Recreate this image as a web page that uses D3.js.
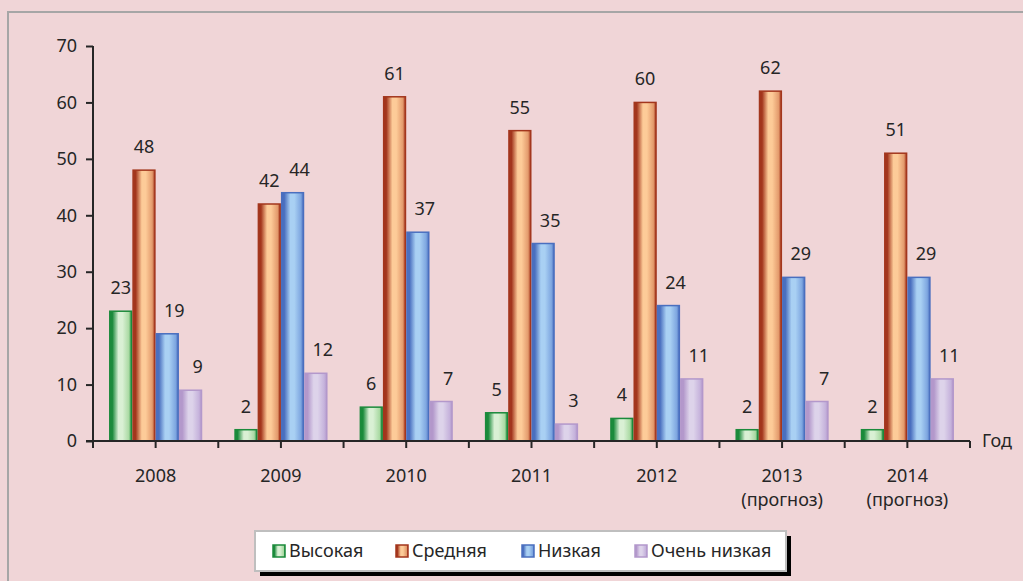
<!DOCTYPE html>
<html>
<head>
<meta charset="utf-8">
<script src="https://cdn.jsdelivr.net/npm/d3@7"></script>
<style>
  html, body { margin: 0; padding: 0; background: #f0d5d7; }
  svg { display: block; font-family: "Noto Sans", sans-serif; }
</style>
</head>
<body>
<svg id="chart" width="1023" height="581"></svg>
<script>
// data
const years = ['2008', '2009', '2010', '2011', '2012', '2013', '2014'];
const yearNotes = ['', '', '', '', '', '(прогноз)', '(прогноз)'];
const seriesNames = ['Высокая', 'Средняя', 'Низкая', 'Очень низкая'];
const high = [23, 2, 6, 5, 4, 2, 2];
const medium = [48, 42, 61, 55, 60, 62, 51];
const low = [19, 44, 37, 35, 24, 29, 29];
const veryLow = [9, 12, 7, 3, 11, 7, 11];
const yTicks = [0, 10, 20, 30, 40, 50, 60, 70];
const axisTitle = 'Год';

const seriesValues = [high, medium, low, veryLow];

// colours: edge, light centre, right side
const palette = [
  {edge: '#1b8a3b', light: '#d9f0d4', mid: '#a9d9a2'},
  {edge: '#a3361d', light: '#fdcb98', mid: '#e39a6c'},
  {edge: '#4a6fbf', light: '#a9d0f3', mid: '#7ea6e0'},
  {edge: '#b398cb', light: '#ddd3ea', mid: '#c6b3dc'}
];
const labelDx = [0, 0, 7, 7];
const fontSize = 18;

const svg = d3.select('#chart');
const textColor = '#262626';

// frame
svg.append('rect')
  .attr('x', 8).attr('y', 12)
  .attr('width', 1100).attr('height', 700)
  .attr('fill', 'none')
  .attr('stroke', '#a6a6a6')
  .attr('stroke-width', 2);

// gradients
const defs = svg.append('defs');
palette.forEach((p, i) => {
  const grad = defs.append('linearGradient')
    .attr('id', 'grad' + i)
    .attr('x1', '0%').attr('x2', '100%')
    .attr('y1', '0%').attr('y2', '0%');
  grad.append('stop').attr('offset', '0%').attr('stop-color', p.edge);
  grad.append('stop').attr('offset', '12%').attr('stop-color', p.edge);
  grad.append('stop').attr('offset', '40%').attr('stop-color', p.light);
  grad.append('stop').attr('offset', '58%').attr('stop-color', p.light);
  grad.append('stop').attr('offset', '88%').attr('stop-color', p.mid);
  grad.append('stop').attr('offset', '100%').attr('stop-color', p.edge);
});

const plotLeft = 93, plotRight = 970, plotTop = 46, plotBottom = 441;

const x = d3.scaleBand()
  .domain(years)
  .range([plotLeft, plotRight])
  .paddingInner(0.256)
  .paddingOuter(0.128);

const xs = d3.scaleBand()
  .domain(d3.range(seriesNames.length))
  .range([0, x.bandwidth()]);

const y = d3.scaleLinear()
  .domain([0, 70])
  .range([plotBottom, plotTop]);

// bars
const g = svg.append('g');
seriesValues.forEach((vals, si) => {
  g.selectAll('.bar-' + si)
    .data(vals)
    .enter()
    .append('rect')
    .attr('class', 'bar bar-' + si)
    .attr('x', (d, i) => x(years[i]) + xs(si) + 0.75)
    .attr('y', d => y(d))
    .attr('width', xs.bandwidth() - 1.5)
    .attr('height', d => y(0) - y(d))
    .attr('fill', 'url(#grad' + si + ')')
    .attr('stroke', palette[si].edge)
    .attr('stroke-width', 1.5);

  g.selectAll('.lbl-' + si)
    .data(vals)
    .enter()
    .append('text')
    .attr('class', 'lbl-' + si)
    .attr('x', (d, i) => x(years[i]) + xs(si) + xs.bandwidth() / 2 + labelDx[si])
    .attr('y', d => y(d) - 17)
    .attr('text-anchor', 'middle')
    .attr('font-size', fontSize)
    .attr('fill', textColor)
    .text(d => d);
});

// y axis
const yAxis = d3.axisLeft(y)
  .tickValues(yTicks)
  .tickSize(7)
  .tickPadding(9);
const yg = svg.append('g')
  .attr('transform', 'translate(' + plotLeft + ',0)')
  .call(yAxis);
yg.select('.domain').remove();
yg.append('line')
  .attr('x1', 0).attr('x2', 0)
  .attr('y1', plotTop).attr('y2', plotBottom + 7)
  .attr('stroke', textColor).attr('stroke-width', 2);
yg.selectAll('.tick line').attr('stroke', textColor).attr('stroke-width', 2);
yg.selectAll('.tick text')
  .attr('font-size', fontSize)
  .attr('fill', textColor)
  .attr('font-family', '"Noto Sans", sans-serif');

// x axis
const xg = svg.append('g');
xg.append('line')
  .attr('x1', plotLeft - 7).attr('x2', plotRight)
  .attr('y1', plotBottom).attr('y2', plotBottom)
  .attr('stroke', textColor).attr('stroke-width', 2);

const tickPos = [];
years.forEach((yr) => {
  const start = x(yr) - x.step() * x.paddingInner() / 2;
  tickPos.push(start, start + x.step() / 2);
});
tickPos.push(plotRight);
xg.selectAll('.xtick')
  .data(tickPos)
  .enter()
  .append('line')
  .attr('x1', d => d).attr('x2', d => d)
  .attr('y1', plotBottom).attr('y2', plotBottom + 7)
  .attr('stroke', textColor).attr('stroke-width', 2);

xg.selectAll('.xlabel')
  .data(years)
  .enter()
  .append('text')
  .attr('x', d => x(d) + x.bandwidth() / 2)
  .attr('y', plotBottom + 41)
  .attr('text-anchor', 'middle')
  .attr('font-size', fontSize)
  .attr('fill', textColor)
  .text(d => d);

xg.selectAll('.xnote')
  .data(yearNotes)
  .enter()
  .append('text')
  .attr('x', (d, i) => x(years[i]) + x.bandwidth() / 2)
  .attr('y', plotBottom + 65)
  .attr('text-anchor', 'middle')
  .attr('font-size', fontSize)
  .attr('fill', textColor)
  .text(d => d);

svg.append('text')
  .attr('x', plotRight + 12)
  .attr('y', plotBottom + 6)
  .attr('font-size', fontSize)
  .attr('fill', textColor)
  .text(axisTitle);

// legend
const legX = 255, legY = 531, legW = 531, legH = 40;
svg.append('rect')
  .attr('x', legX + 5).attr('y', legY + 5)
  .attr('width', legW).attr('height', legH)
  .attr('fill', '#000');
svg.append('rect')
  .attr('x', legX).attr('y', legY)
  .attr('width', legW).attr('height', legH)
  .attr('fill', '#fff')
  .attr('stroke', '#bfbfbf')
  .attr('stroke-width', 2);

const legendX = [273, 396, 522, 635];
const leg = svg.selectAll('.legend')
  .data(seriesNames)
  .enter()
  .append('g')
  .attr('transform', (d, i) => 'translate(' + legendX[i] + ',' + (legY + 20) + ')');
leg.append('rect')
  .attr('x', 0).attr('y', -6)
  .attr('width', 12).attr('height', 12)
  .attr('fill', (d, i) => 'url(#grad' + i + ')')
  .attr('stroke', (d, i) => palette[i].edge)
  .attr('stroke-width', 1.5);
leg.append('text')
  .attr('x', 16)
  .attr('y', 6)
  .attr('font-size', fontSize)
  .attr('fill', textColor)
  .text(d => d);
</script>
</body>
</html>
